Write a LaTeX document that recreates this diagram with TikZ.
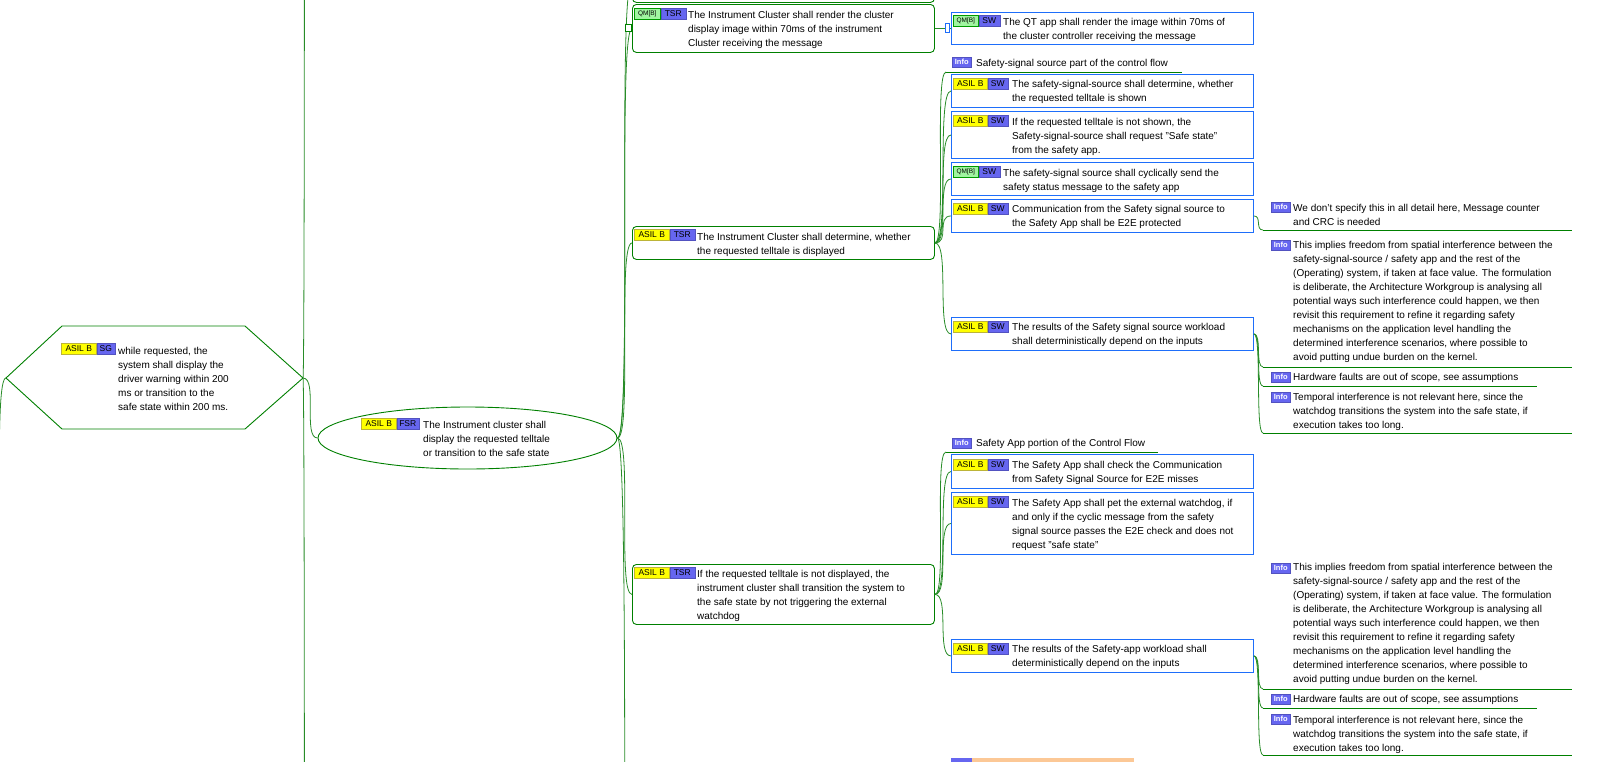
\documentclass[tikz,border=0pt]{standalone}
\usepackage{fontspec}
\setmainfont{Liberation Sans}
\usetikzlibrary{shapes.geometric}
\definecolor{mmgreen}{RGB}{0,128,0}
\definecolor{mmline}{RGB}{40,140,40}
\definecolor{mmblue}{RGB}{30,110,250}
\definecolor{tagpurple}{RGB}{102,102,240}
\definecolor{tagyellow}{RGB}{255,255,0}
\definecolor{qmgreen}{RGB}{160,245,160}
\definecolor{orangefill}{RGB}{252,200,150}
\newcommand\mmlink[3][10]{\draw[conn] (#2) .. controls +(#1,0) and +(-#1,0) .. (#3);}
\begin{document}
\begin{tikzpicture}[x=1pt,y=-1pt,
  conn/.style={draw=mmline, line width=0.8pt},
  tsrbox/.style={draw=mmgreen, line width=0.9pt, rounded corners=4pt, anchor=north west, inner sep=0pt, minimum width=302pt},
  swbox/.style={draw=mmblue, line width=0.9pt, anchor=north west, inner sep=0pt, minimum width=302pt},
  txt/.style={anchor=north west, inner sep=0pt, align=left, font=\fontsize{10}{14}\selectfont},
  tagbase/.style={anchor=north west, inner sep=0pt, minimum height=11pt, font=\fontsize{8.5}{9}\selectfont, line width=0.5pt},
  asil/.style={tagbase, fill=tagyellow, draw=yellow!70!black, minimum width=35pt},
  kind/.style={tagbase, fill=tagpurple, draw=tagpurple!80!black},
  qm/.style={tagbase, fill=qmgreen, draw=green!60!black, font=\fontsize{6.5}{7}\selectfont, minimum width=26pt},
  infotag/.style={tagbase, fill=tagpurple, draw=tagpurple!80!black, text=white, font=\bfseries\fontsize{7.5}{8}\selectfont, minimum width=19pt, minimum height=10pt},
  uline/.style={draw=mmgreen, line width=0.9pt},
  marker/.style={anchor=north west, inner sep=0pt, fill=white, line width=0.7pt}
]
\useasboundingbox (0,0) rectangle (1600,761);
\clip (0,0) rectangle (1600,761);
\fill[white] (0,0) rectangle (1600,761);

% ---------- SG hexagon ----------
\coordinate (sgL) at (6,378);
\coordinate (sgR) at (303,378);
\draw[draw=mmgreen, line width=0.9pt] (sgL) -- (62,326) -- (245,326) -- (sgR) -- (245,429) -- (62,429) -- cycle;
\node[asil] (sgA) at (61,343) {ASIL B};
\node[kind, minimum width=18pt] (sgK) at (sgA.north east) {SG};
\node[txt] (sgT) at (118,347.3) {while requested, the\\system shall display the\\driver warning within 200\\ms or transition to the\\safe state within 200 ms.};

% ---------- FSR ellipse ----------
\node[ellipse, draw=mmgreen, line width=0.9pt, minimum width=299pt, minimum height=62pt, inner sep=0pt] (fsr) at (467.5,438) {};
\node[asil] (fsrA) at (361,418) {ASIL B};
\node[kind, minimum width=22pt] (fsrK) at (fsrA.north east) {FSR};
\node[txt] (fsrT) at (423,421.3) {The Instrument cluster shall\\display the requested telltale\\or transition to the safe state};

% ---------- TSR nodes ----------
\node[tsrbox, minimum height=42pt] (tsr0) at (632,-40) {};
\node[tsrbox, minimum height=48pt] (tsr1) at (632,4) {};
\node[qm] (tsr1Q) at (634,8) {QM[B]};
\node[kind, minimum width=25pt] (tsr1K) at (tsr1Q.north east) {TSR};
\node[txt] (tsr1T) at (688,11.3) {The Instrument Cluster shall render the cluster\\display image within 70ms of the instrument\\Cluster receiving the message};

\node[tsrbox, minimum height=33pt] (tsr2) at (632,226) {};
\node[asil] (tsr2A) at (634,229) {ASIL B};
\node[kind, minimum width=25pt] (tsr2K) at (tsr2A.north east) {TSR};
\node[txt] (tsr2T) at (697,233.3) {The Instrument Cluster shall determine, whether\\the requested telltale is displayed};

\node[tsrbox, minimum height=60pt] (tsr3) at (632,564) {};
\node[asil] (tsr3A) at (634,567) {ASIL B};
\node[kind, minimum width=25pt] (tsr3K) at (tsr3A.north east) {TSR};
\node[txt] (tsr3T) at (697,570.3) {If the requested telltale is not displayed, the\\instrument cluster shall transition the system to\\the safe state by not triggering the external\\watchdog};

% ---------- QT node ----------
\node[swbox, minimum height=32pt] (qt) at (951,12) {};
\node[qm, minimum width=25pt] (qtQ) at (953,15) {QM[B]};
\node[kind, minimum width=21pt] (qtK) at (qtQ.north east) {SW};
\node[txt] (qtT) at (1003,18.3) {The QT app shall render the image within 70ms of\\the cluster controller receiving the message};

% ---------- Safety-signal source branch ----------
\node[infotag] (i1tag) at (952,57) {Info};
\node[txt] (i1T) at (976,59.3) {Safety-signal source part of the control flow};
\coordinate (i1u) at (946,72);
\draw[uline] (i1u) -- (1182,72);

\node[swbox, minimum height=33pt] (sw1) at (951,74) {};
\node[asil, minimum width=34pt] (sw1A) at (953,78) {ASIL B};
\node[kind, minimum width=20pt] (sw1K) at (sw1A.north east) {SW};
\node[txt] (sw1T) at (1012,80.3) {The safety-signal-source shall determine, whether\\the requested telltale is shown};

\node[swbox, minimum height=47pt] (sw2) at (951,111) {};
\node[asil, minimum width=34pt] (sw2A) at (953,115) {ASIL B};
\node[kind, minimum width=20pt] (sw2K) at (sw2A.north east) {SW};
\node[txt] (sw2T) at (1012,118.3) {If the requested telltale is not shown, the\\Safety-signal-source shall request "Safe state"\\from the safety app.};

\node[swbox, minimum height=33pt] (sw3) at (951,162) {};
\node[qm, minimum width=25pt] (sw3Q) at (953,166) {QM[B]};
\node[kind, minimum width=21pt] (sw3K) at (sw3Q.north east) {SW};
\node[txt] (sw3T) at (1003,169.3) {The safety-signal source shall cyclically send the\\safety status message to the safety app};

\node[swbox, minimum height=33pt] (sw4) at (951,199) {};
\node[asil, minimum width=34pt] (sw4A) at (953,203) {ASIL B};
\node[kind, minimum width=20pt] (sw4K) at (sw4A.north east) {SW};
\node[txt] (sw4T) at (1012,205.3) {Communication from the Safety signal source to\\the Safety App shall be E2E protected};

\node[swbox, minimum height=33pt] (sw5) at (951,317) {};
\node[asil, minimum width=34pt] (sw5A) at (953,321) {ASIL B};
\node[kind, minimum width=20pt] (sw5K) at (sw5A.north east) {SW};
\node[txt] (sw5T) at (1012,323.3) {The results of the Safety signal source workload\\shall deterministically depend on the inputs};

% ---------- Safety App branch ----------
\node[infotag] (i2tag) at (952,438) {Info};
\node[txt] (i2T) at (976,439.3) {Safety App portion of the Control Flow};
\coordinate (i2u) at (946,452);
\draw[uline] (i2u) -- (1158,452);

\node[swbox, minimum height=34pt] (sw6) at (951,454) {};
\node[asil, minimum width=34pt] (sw6A) at (953,459) {ASIL B};
\node[kind, minimum width=20pt] (sw6K) at (sw6A.north east) {SW};
\node[txt] (sw6T) at (1012,461.3) {The Safety App shall check the Communication\\from Safety Signal Source for E2E misses};

\node[swbox, minimum height=62pt] (sw7) at (951,492) {};
\node[asil, minimum width=34pt] (sw7A) at (953,496) {ASIL B};
\node[kind, minimum width=20pt] (sw7K) at (sw7A.north east) {SW};
\node[txt] (sw7T) at (1012,499.3) {The Safety App shall pet the external watchdog, if\\and only if the cyclic message from the safety\\signal source passes the E2E check and does not\\request "safe state"};

\node[swbox, minimum height=33pt] (sw8) at (951,639) {};
\node[asil, minimum width=34pt] (sw8A) at (953,643) {ASIL B};
\node[kind, minimum width=20pt] (sw8K) at (sw8A.north east) {SW};
\node[txt] (sw8T) at (1012,645.3) {The results of the Safety-app workload shall\\deterministically depend on the inputs};

\node[anchor=north west, fill=orangefill, minimum width=183pt, minimum height=20pt, inner sep=0pt] (orn) at (951,758) {};
\node[anchor=north west, fill=tagpurple, minimum width=21pt, minimum height=10pt, inner sep=0pt] (ornK) at (951,758) {};

% ---------- Info notes ----------
\node[infotag] (iAtag) at (1271,202) {Info};
\node[txt] (iAT) at (1293,204.3) {We don't specify this in all detail here, Message counter\\and CRC is needed};
\coordinate (iAu) at (1263,230);
\draw[uline] (iAu) -- (1572,230);

\node[infotag] (iBtag) at (1271,240) {Info};
\node[txt] (iBT) at (1293,241.3) {This implies freedom from spatial interference between the\\safety-signal-source / safety app and the rest of the\\(Operating) system, if taken at face value. The formulation\\is deliberate, the Architecture Workgroup is analysing all\\potential ways such interference could happen, we then\\revisit this requirement to refine it regarding safety\\mechanisms on the application level handling the\\determined interference scenarios, where possible to\\avoid putting undue burden on the kernel.};
\coordinate (iBu) at (1263,367);
\draw[uline] (iBu) -- (1572,367);

\node[infotag] (iCtag) at (1271,372) {Info};
\node[txt] (iCT) at (1293,373.3) {Hardware faults are out of scope, see assumptions};
\coordinate (iCu) at (1263,386);
\draw[uline] (iCu) -- (1537,386);

\node[infotag] (iDtag) at (1271,392) {Info};
\node[txt] (iDT) at (1293,393.3) {Temporal interference is not relevant here, since the\\watchdog transitions the system into the safe state, if\\execution takes too long.};
\coordinate (iDu) at (1263,433);
\draw[uline] (iDu) -- (1572,433);

\node[infotag] (iB2tag) at (1271,563) {Info};
\node[txt] (iB2T) at (1293,563.3) {This implies freedom from spatial interference between the\\safety-signal-source / safety app and the rest of the\\(Operating) system, if taken at face value. The formulation\\is deliberate, the Architecture Workgroup is analysing all\\potential ways such interference could happen, we then\\revisit this requirement to refine it regarding safety\\mechanisms on the application level handling the\\determined interference scenarios, where possible to\\avoid putting undue burden on the kernel.};
\coordinate (iB2u) at (1263,689);
\draw[uline] (iB2u) -- (1572,689);

\node[infotag] (iC2tag) at (1271,694) {Info};
\node[txt] (iC2T) at (1293,695.3) {Hardware faults are out of scope, see assumptions};
\coordinate (iC2u) at (1263,708);
\draw[uline] (iC2u) -- (1537,708);

\node[infotag] (iD2tag) at (1271,714) {Info};
\node[txt] (iD2T) at (1293,716.3) {Temporal interference is not relevant here, since the\\watchdog transitions the system into the safe state, if\\execution takes too long.};
\coordinate (iD2u) at (1263,755);
\draw[uline] (iD2u) -- (1572,755);

% ---------- connectors ----------
\coordinate (sgpar) at (-8,560);
\coordinate (sgup) at (306,-1500);
\coordinate (sgdown) at (306,2300);
\coordinate (fsrdown) at (632,1400);
\mmlink[12]{sgpar}{sgL}
\mmlink[3]{sgR}{sgup}
\mmlink[3]{sgR}{sgdown}
\mmlink[15]{sgR}{fsr.west}

\mmlink[15]{fsr.east}{tsr0.west}
\mmlink[15]{fsr.east}{tsr1.west}
\mmlink[15]{fsr.east}{tsr2.west}
\mmlink[15]{fsr.east}{tsr3.west}
\mmlink[15]{fsr.east}{fsrdown}

\draw[conn] (tsr1.east) -- (qt.west);
\node[marker, draw=mmgreen, minimum width=6pt, minimum height=7pt] (mk1) at (625,24) {};
\node[marker, draw=mmblue, minimum width=4pt, minimum height=9pt] (mk2) at (945,23) {};

\mmlink[12]{tsr2.east}{i1u}
\mmlink[15]{tsr2.east}{sw1.west}
\mmlink[15]{tsr2.east}{sw2.west}
\mmlink[15]{tsr2.east}{sw3.west}
\mmlink[15]{tsr2.east}{sw4.west}
\mmlink[15]{tsr2.east}{sw5.west}

\mmlink[12]{tsr3.east}{i2u}
\mmlink[15]{tsr3.east}{sw6.west}
\mmlink[15]{tsr3.east}{sw7.west}
\mmlink[15]{tsr3.east}{sw8.west}

\mmlink[8]{sw4.east}{iAu}
\mmlink[8]{sw5.east}{iBu}
\mmlink[8]{sw5.east}{iCu}
\mmlink[8]{sw5.east}{iDu}
\mmlink[8]{sw8.east}{iB2u}
\mmlink[8]{sw8.east}{iC2u}
\mmlink[8]{sw8.east}{iD2u}
\end{tikzpicture}
\end{document}
